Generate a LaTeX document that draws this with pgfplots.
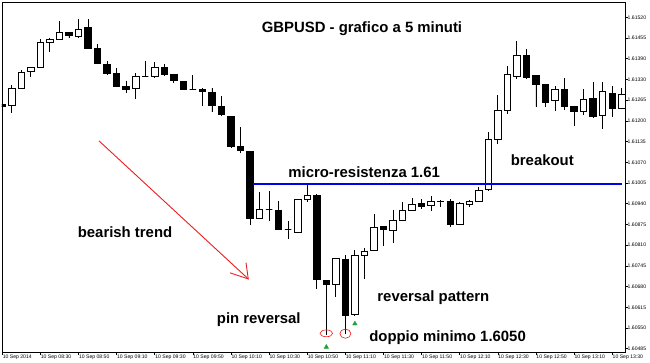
\documentclass[border=0pt]{standalone}
\usepackage{pgfplots}
\pgfplotsset{compat=1.18}
\usepgfplotslibrary{statistics}
\usepackage{fontspec}
\setmainfont{Liberation Sans}

\definecolor{bluel}{RGB}{0,0,235}
\definecolor{redl}{RGB}{235,30,30}
\definecolor{greenm}{RGB}{30,160,60}

\pgfplotsset{
  candle/.style={black, solid, line width=0.9pt,
    boxplot/box extend=0.68, boxplot/whisker extend=0, boxplot/draw direction=y},
}
% #1 x, #2 open, #3 high, #4 low, #5 close
\newcommand{\bull}[5]{\addplot[candle, fill=white, boxplot prepared={draw position=#1, lower whisker=#4, lower quartile=#2, median=#2, upper quartile=#5, upper whisker=#3}] coordinates {};}
\newcommand{\bear}[5]{\addplot[candle, fill=black, boxplot prepared={draw position=#1, lower whisker=#4, lower quartile=#5, median=#5, upper quartile=#2, upper whisker=#3}] coordinates {};}
\newcommand{\lblfont}{\fontsize{14.9}{17}\selectfont\bfseries}

\begin{document}
\begin{tikzpicture}
\useasboundingbox (-2pt,-10pt) rectangle (648pt,352pt);
\begin{axis}[
  at={(0,0)}, anchor=south west,
  scale only axis, width=623pt, height=350pt,
  xmin=-0.03, xmax=65.34, ymin=1.604747, ymax=1.615678,
  axis line style={black, line width=0.9pt},
  xtick={0,4,8,12,16,20,24,28,32,36,40,44,48,52,56,60,64},
  xticklabels={10 Sep 2014,10 Sep 08:30,10 Sep 08:50,10 Sep 09:10,10 Sep 09:30,10 Sep 09:50,10 Sep 10:10,10 Sep 10:30,10 Sep 10:50,10 Sep 11:10,10 Sep 11:30,10 Sep 11:50,10 Sep 12:10,10 Sep 12:30,10 Sep 12:50,10 Sep 13:10,10 Sep 13:30},
  ytick={1.615200,1.614553,1.613906,1.613259,1.612613,1.611966,1.611319,1.610672,1.610025,1.609378,1.608731,1.608084,1.607438,1.606791,1.606144,1.605497,1.604850},
  yticklabels={1.61520,1.61455,1.61390,1.61330,1.61265,1.61200,1.61135,1.61070,1.61005,1.60940,1.60875,1.60810,1.60745,1.60680,1.60615,1.60550,1.60485},
  xtick pos=left, ytick pos=right, yticklabel pos=right,
  tick align=outside, major tick length=2.5pt,
  tick style={black, line width=0.6pt},
  xticklabel style={font=\fontsize{5.1}{6}\selectfont, anchor=north west, inner sep=0pt, xshift=0.3pt, yshift=-0.5pt},
  yticklabel style={font=\fontsize{5.1}{6}\selectfont, anchor=west, inner sep=0pt, xshift=0pt},
  clip=true,
]
\bear{0}{1.61248}{1.61251}{1.61215}{1.61241}
\bull{1}{1.61244}{1.61309}{1.61222}{1.61298}
\bull{2}{1.61298}{1.61355}{1.61297}{1.61349}
\bull{3}{1.61351}{1.61365}{1.61333}{1.61364}
\bull{4}{1.61364}{1.61451}{1.61363}{1.61441}
\bull{5}{1.61442}{1.61456}{1.61413}{1.61451}
\bull{6}{1.61452}{1.61509}{1.61451}{1.61473}
\bear{7}{1.61473}{1.61474}{1.61454}{1.61463}
\bull{8}{1.61459}{1.61516}{1.61457}{1.61483}
\bear{9}{1.61487}{1.61515}{1.61422}{1.61423}
\bear{10}{1.61423}{1.61437}{1.61373}{1.61376}
\bear{11}{1.61373}{1.61383}{1.61343}{1.61344}
\bear{12}{1.61344}{1.61362}{1.61303}{1.61305}
\bear{13}{1.61303}{1.61322}{1.61285}{1.61295}
\bull{14}{1.61298}{1.61345}{1.61264}{1.61335}
\bull{15}{1.61336}{1.61385}{1.61334}{1.61336}
\bull{16}{1.61336}{1.61381}{1.61329}{1.61363}
\bear{17}{1.61364}{1.61373}{1.61337}{1.61343}
\bear{18}{1.61343}{1.61343}{1.61316}{1.61324}
\bear{19}{1.61321}{1.61321}{1.61295}{1.61295}
\bull{20}{1.61295}{1.61340}{1.61294}{1.61295}
\bear{21}{1.61294}{1.61300}{1.61244}{1.61289}
\bear{22}{1.61286}{1.61298}{1.61225}{1.61244}
\bear{23}{1.61243}{1.61275}{1.61215}{1.61216}
\bear{24}{1.61211}{1.61212}{1.61114}{1.61116}
\bear{25}{1.61118}{1.61176}{1.61095}{1.61103}
\bear{26}{1.61101}{1.61102}{1.60870}{1.60891}
\bull{27}{1.60892}{1.60974}{1.60891}{1.60920}
\bull{28}{1.60920}{1.60977}{1.60884}{1.60920}
\bear{29}{1.60917}{1.60947}{1.60857}{1.60858}
\bull{30}{1.60857}{1.60885}{1.60827}{1.60857}
\bull{31}{1.60848}{1.60954}{1.60847}{1.60952}
\bull{32}{1.60952}{1.60998}{1.60942}{1.60965}
\bear{33}{1.60965}{1.60968}{1.60671}{1.60700}
\bear{34}{1.60697}{1.60699}{1.60528}{1.60685}
\bull{35}{1.60686}{1.60767}{1.60647}{1.60767}
\bear{36}{1.60764}{1.60778}{1.60531}{1.60588}
\bull{37}{1.60591}{1.60793}{1.60590}{1.60775}
\bull{38}{1.60775}{1.60799}{1.60703}{1.60788}
\bull{39}{1.60793}{1.60905}{1.60792}{1.60864}
\bear{40}{1.60866}{1.60867}{1.60806}{1.60856}
\bull{41}{1.60854}{1.60918}{1.60814}{1.60885}
\bull{42}{1.60887}{1.60942}{1.60886}{1.60916}
\bull{43}{1.60918}{1.60955}{1.60917}{1.60937}
\bear{44}{1.60939}{1.60952}{1.60921}{1.60929}
\bull{45}{1.60931}{1.60963}{1.60916}{1.60944}
\bull{46}{1.60944}{1.60949}{1.60929}{1.60944}
\bear{47}{1.60946}{1.60952}{1.60866}{1.60874}
\bull{48}{1.60874}{1.60944}{1.60873}{1.60938}
\bull{49}{1.60934}{1.60949}{1.60929}{1.60944}
\bull{50}{1.60945}{1.60991}{1.60945}{1.60979}
\bull{51}{1.60981}{1.61162}{1.60979}{1.61137}
\bull{52}{1.61137}{1.61277}{1.61124}{1.61228}
\bull{53}{1.61228}{1.61369}{1.61217}{1.61340}
\bull{54}{1.61335}{1.61446}{1.61326}{1.61402}
\bear{55}{1.61402}{1.61420}{1.61330}{1.61331}
\bear{56}{1.61337}{1.61337}{1.61241}{1.61309}
\bear{57}{1.61309}{1.61309}{1.61241}{1.61255}
\bull{58}{1.61260}{1.61305}{1.61228}{1.61295}
\bear{59}{1.61295}{1.61330}{1.61231}{1.61241}
\bear{60}{1.61243}{1.61243}{1.61181}{1.61227}
\bull{61}{1.61227}{1.61295}{1.61215}{1.61264}
\bear{62}{1.61267}{1.61317}{1.61209}{1.61210}
\bull{63}{1.61212}{1.61319}{1.61171}{1.61287}
\bear{64}{1.61283}{1.61305}{1.61210}{1.61236}
\bull{65}{1.61236}{1.61298}{1.61235}{1.61280}
% micro-resistance line
\addplot[bluel, line width=2pt] coordinates {(26.35,1.61) (65,1.61)};
% bearish trend arrow
\addplot[redl, line width=0.9pt] coordinates {(10.15,1.61134) (25.81,1.60703)};
\addplot[redl, line width=0.9pt] coordinates {(25.57,1.60754) (25.81,1.60703) (23.89,1.60722)};
% double bottom markers
\draw[redl, line width=0.6pt] (axis cs:34,1.60533) ellipse [x radius=6.3pt, y radius=3.4pt];
\draw[redl, line width=0.6pt] (axis cs:36,1.60532) ellipse [x radius=5.5pt, y radius=4.6pt];
\addplot[only marks, mark=triangle*, mark size=2.6pt, greenm] coordinates {(34,1.60490) (37,1.60563)};
% annotations
\node[anchor=base, font=\lblfont] at (axis cs:37.74,1.61473) {GBPUSD - grafico a 5 minuti};
\node[anchor=base, font=\lblfont] at (axis cs:37.97,1.61020) {micro-resistenza 1.61};
\node[anchor=base, font=\lblfont] at (axis cs:56.66,1.61058) {breakout};
\node[anchor=base, font=\lblfont] at (axis cs:12.88,1.60831) {bearish trend};
\node[anchor=base, font=\lblfont] at (axis cs:26.91,1.60565) {pin reversal};
\node[anchor=base, font=\lblfont] at (axis cs:45.23,1.60632) {reversal pattern};
\node[anchor=base, font=\lblfont] at (axis cs:46.72,1.60507) {doppio minimo 1.6050};
\end{axis}
\end{tikzpicture}
\end{document}
